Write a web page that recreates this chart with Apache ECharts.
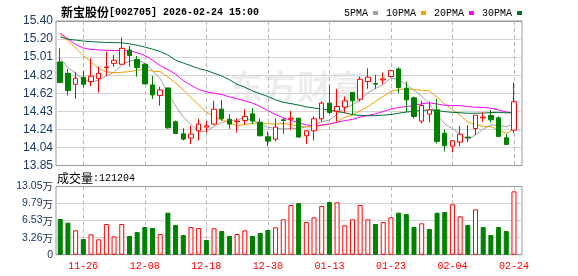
<!DOCTYPE html>
<html><head><meta charset="utf-8">
<script src="https://cdn.jsdelivr.net/npm/echarts@6/dist/echarts.min.js"></script>
<style>html,body{margin:0;padding:0;background:#fff}#c{width:578px;height:276px}</style>
</head><body><div id="c"></div>
<script>
const dates = ['11-21','11-24','11-25','11-26','11-27','11-28','12-01','12-02','12-03','12-04','12-05','12-08','12-09','12-10','12-11','12-12','12-15','12-16','12-17','12-18','12-19','12-22','12-23','12-24','12-25','12-26','12-29','12-30','12-31','01-05','01-06','01-07','01-08','01-09','01-12','01-13','01-14','01-15','01-16','01-19','01-20','01-21','01-22','01-23','01-26','01-27','01-28','01-29','01-30','02-02','02-03','02-04','02-05','02-06','02-09','02-10','02-11','02-12','02-13','02-24'];
const opens = [14.961,14.839,14.721,14.796,14.750,14.782,14.900,14.946,14.936,15.089,14.989,14.936,14.714,14.600,14.682,14.319,14.190,14.144,14.222,14.262,14.294,14.454,14.347,14.319,14.333,14.404,14.315,14.158,14.133,14.340,14.347,14.358,14.169,14.222,14.351,14.519,14.433,14.476,14.633,14.561,14.750,14.729,14.768,14.804,14.886,14.679,14.576,14.326,14.401,14.447,14.197,14.058,14.101,14.155,14.247,14.361,14.386,14.361,14.147,14.229];
const closes = [14.739,14.654,14.786,14.721,14.807,14.839,14.907,14.979,15.107,15.029,14.900,14.725,14.607,14.661,14.254,14.194,14.133,14.187,14.294,14.276,14.454,14.351,14.294,14.326,14.376,14.326,14.169,14.112,14.262,14.333,14.358,14.155,14.222,14.351,14.519,14.419,14.483,14.543,14.545,14.775,14.797,14.722,14.779,14.868,14.686,14.554,14.376,14.494,14.447,14.108,14.062,14.115,14.187,14.147,14.390,14.369,14.340,14.162,14.076,14.533];
const lows = [14.739,14.600,14.564,14.686,14.704,14.632,14.811,14.911,14.936,14.911,14.804,14.725,14.564,14.493,14.246,14.187,14.119,14.080,14.119,14.204,14.283,14.329,14.244,14.204,14.290,14.294,14.162,14.055,14.108,14.187,14.233,14.151,14.080,14.119,14.322,14.404,14.322,14.411,14.394,14.536,14.672,14.672,14.722,14.797,14.626,14.426,14.354,14.301,14.311,14.087,14.001,13.990,14.055,14.101,14.176,14.319,14.311,14.162,14.076,14.197];
const highs = [15.107,14.886,14.854,14.864,15.000,14.911,15.071,15.036,15.225,15.132,15.025,14.946,14.811,14.696,14.682,14.333,14.251,14.276,14.351,14.329,14.543,14.554,14.401,14.358,14.454,14.465,14.354,14.215,14.358,14.358,14.436,14.361,14.222,14.376,14.536,14.715,14.672,14.590,14.636,14.804,14.893,14.822,14.847,14.875,14.904,14.750,14.590,14.543,14.536,14.565,14.233,14.119,14.276,14.283,14.390,14.422,14.447,14.376,14.190,14.740];
const volumes = [68300,61300,46600,30000,39000,29400,58700,35100,58700,35800,43400,53000,51100,39600,80400,56800,37700,53000,51100,28100,50500,45300,35800,39600,46600,35800,41500,47300,52400,67700,95100,98900,62600,71500,93200,100800,100200,56200,67700,95100,67700,58700,62600,71500,80400,77900,53000,60000,49200,80400,81700,96400,73400,56800,86800,53000,37700,53000,45300,121204];
const prevCloseBeforeFirst = 14.95;
const ma5 = [15.00,14.90,14.84,14.77,14.745,14.765,14.81,14.85,14.93,14.97,14.98,14.95,14.87,14.78,14.63,14.49,14.37,14.29,14.21,14.22,14.27,14.31,14.33,14.34,14.36,14.335,14.30,14.26,14.25,14.24,14.25,14.245,14.265,14.285,14.32,14.335,14.40,14.465,14.50,14.555,14.63,14.675,14.72,14.79,14.77,14.72,14.655,14.595,14.51,14.395,14.295,14.245,14.185,14.125,14.18,14.24,14.285,14.28,14.265,14.295];
const ma10 = [15.26,15.19,15.11,15.03,14.96,14.89,14.855,14.845,14.85,14.857,14.873,14.88,14.862,14.856,14.80,14.736,14.659,14.58,14.498,14.423,14.379,14.341,14.31,14.276,14.289,14.302,14.305,14.298,14.295,14.30,14.291,14.271,14.264,14.266,14.281,14.29,14.321,14.365,14.393,14.437,14.481,14.537,14.593,14.645,14.662,14.675,14.664,14.659,14.65,14.583,14.51,14.449,14.39,14.318,14.288,14.27,14.266,14.233,14.196,14.238];
const ma20 = [15.27,15.21,15.15,15.11,15.095,15.09,15.085,15.083,15.082,15.08,15.06,15.03,14.98,14.92,14.88,14.83,14.76,14.71,14.665,14.64,14.626,14.611,14.586,14.566,14.545,14.519,14.482,14.439,14.397,14.362,14.335,14.306,14.287,14.271,14.285,14.296,14.313,14.332,14.344,14.369,14.386,14.404,14.429,14.456,14.472,14.483,14.493,14.512,14.522,14.51,14.496,14.493,14.492,14.482,14.475,14.473,14.465,14.446,14.423,14.411];
const ma30 = [15.23,15.205,15.195,15.185,15.178,15.174,15.170,15.168,15.166,15.155,15.14,15.12,15.098,15.072,15.035,14.98,14.95,14.92,14.89,14.87,14.84,14.81,14.77,14.72,14.69,14.65,14.62,14.59,14.555,14.527,14.514,14.498,14.479,14.467,14.457,14.443,14.429,14.415,14.396,14.387,14.384,14.384,14.390,14.397,14.411,14.423,14.431,14.441,14.446,14.441,14.428,14.420,14.416,14.410,14.411,14.412,14.418,14.420,14.414,14.421];
const priceTickLabels = ['13.85','14.04','14.24','14.43','14.62','14.82','15.01','15.20','15.40'];
const volTickNumbers = ['0','3.26','6.53','9.79','13.05'];
const volUnit = '万';
const xLabelEvery = 8, xLabelOffset = 3;
const PRICE_MIN = 13.85, PRICE_MAX = 15.40, VOL_MAX = 130500;

const RED = '#ff0000', GREEN = '#008000';
const chart = echarts.init(document.getElementById('c'));
const candle = opens.map((o, i) => [o, closes[i], lows[i], highs[i]]);
const volData = volumes.map((v, i) => {
  const pc = i === 0 ? prevCloseBeforeFirst : closes[i - 1];
  const up = closes[i] >= pc;
  return { value: v, itemStyle: up ? { color: '#fff', borderColor: RED, borderWidth: 1 } : { color: GREEN, borderColor: GREEN, borderWidth: 1 } };
});
const showIdx = (i) => i % xLabelEvery === xLabelOffset;
const markDates = dates.filter((d, i) => showIdx(i));
const frameLine = (n) => { const a = []; for (let i = 0; i <= n; i++) a.push(i === 0 || i === n ? '#999' : '#d4d4d4'); return a; };
const labelColor = '#1a3a66';

const PL = 56.4, PW = 461.4;
const MAIN = { top: 21, height: 144.5 }, VOL = { top: 186.5, height: 68.2 };

// dashed vertical guide at each labelled date, positioned by the category scale
const dashGuide = (xi, yi, yRef) => ({
  type: 'custom', name: 'guide' + xi, xAxisIndex: xi, yAxisIndex: yi, z: 1, silent: true,
  data: markDates.map(d => [d]), encode: { x: 0 },
  renderItem: (params, api) => {
    const x = Math.round(api.coord([api.value(0), yRef])[0]) + 0.5;
    const cs = params.coordSys;
    return { type: 'line', shape: { x1: x, y1: cs.y, x2: x, y2: cs.y + cs.height },
      style: { stroke: '#b8b8b8', lineWidth: 1, lineDash: [4, 3] } };
  }
});

chart.setOption({
  animation: false,
  title: {
    text: '{a|新宝股份}{b|[002705] 2026-02-24 15:00}', left: 56, top: 1,
    textStyle: { rich: {
      a: { fontFamily: 'Noto Sans CJK SC', fontSize: 12, color: '#000' },
      b: { fontFamily: 'Liberation Mono', fontSize: 10, color: '#000' } } }
  },
  legend: {
    left: 339, top: 3, align: 'right', icon: 'rect', itemWidth: 5, itemHeight: 4, itemGap: 8,
    textStyle: { fontFamily: 'Liberation Mono', fontSize: 10, color: '#000' },
    data: ['5PMA', '10PMA', '20PMA', '30PMA']
  },
  graphic: [
    { type: 'text', left: 229, top: 70, z: -1, style: { text: '东方财富', fontFamily: 'Noto Sans CJK SC', fontWeight: 'bold', fontSize: 34, fill: 'rgba(0,0,0,0.07)' } },
    { type: 'text', left: 57, top: 172, style: { rich: {
      a: { fontFamily: 'Noto Sans CJK SC', fontSize: 12, fill: '#000' },
      b: { fontFamily: 'Liberation Mono', fontSize: 10, fill: '#000' } }, text: '{a|成交量}{b|:' + volumes[volumes.length - 1] + '}' } }
  ],
  grid: [
    { left: 56, right: 56, top: MAIN.top, height: MAIN.height, show: true, backgroundColor: 'transparent', borderColor: '#999', borderWidth: 1 },
    { left: 56, right: 56, top: VOL.top, height: VOL.height, show: true, backgroundColor: 'transparent', borderColor: '#999', borderWidth: 1 },
    { left: PL, width: PW, top: MAIN.top, height: MAIN.height },
    { left: PL, width: PW, top: VOL.top, height: VOL.height }
  ],
  xAxis: [
    { gridIndex: 0, type: 'value', min: 0, max: 1, show: false },
    { gridIndex: 1, type: 'value', min: 0, max: 1, show: false },
    { gridIndex: 2, type: 'category', data: dates, boundaryGap: true,
      axisLine: { show: false }, axisTick: { show: false }, axisLabel: { show: false }, splitLine: { show: false } },
    { gridIndex: 3, type: 'category', data: dates, boundaryGap: true,
      axisLine: { show: false }, axisTick: { show: false }, splitLine: { show: false },
      axisLabel: { show: true, interval: showIdx, color: RED, fontFamily: 'Liberation Mono', fontSize: 10, margin: 7 } }
  ],
  yAxis: [
    { gridIndex: 0, type: 'value', min: 0, max: 8, interval: 1,
      axisLine: { show: false }, axisTick: { show: false },
      axisLabel: { formatter: v => priceTickLabels[Math.round(v)], color: labelColor, fontFamily: 'Liberation Sans', fontSize: 12, margin: 3 },
      splitLine: { show: true, lineStyle: { color: frameLine(8), width: 1 } } },
    { gridIndex: 1, type: 'value', min: 0, max: 4, interval: 1,
      axisLine: { show: false }, axisTick: { show: false },
      axisLabel: {
        formatter: v => { const k = Math.round(v); return k === 0 ? '{n|0}' : '{n|' + volTickNumbers[k] + '}{u|' + volUnit + '}'; },
        margin: 3,
        rich: { n: { color: labelColor, fontFamily: 'Liberation Sans', fontSize: 10.5 },
                u: { color: '#1a2a40', fontFamily: 'Noto Sans CJK SC', fontSize: 10.5 } } },
      splitLine: { show: true, lineStyle: { color: frameLine(4), width: 1 } } },
    { gridIndex: 2, type: 'value', min: PRICE_MIN, max: PRICE_MAX, show: false },
    { gridIndex: 3, type: 'value', min: 0, max: VOL_MAX, show: false }
  ],
  series: [
    dashGuide(2, 2, PRICE_MIN),
    dashGuide(3, 3, 0),
    { type: 'line', name: '5PMA', xAxisIndex: 2, yAxisIndex: 2, data: ma5, showSymbol: false, symbol: 'none', lineStyle: { width: 1, color: '#a0a0a0' }, itemStyle: { color: '#a0a0a0' }, z: 3 },
    { type: 'line', name: '10PMA', xAxisIndex: 2, yAxisIndex: 2, data: ma10, showSymbol: false, symbol: 'none', lineStyle: { width: 1, color: '#f0a000' }, itemStyle: { color: '#f0a000' }, z: 3 },
    { type: 'line', name: '20PMA', xAxisIndex: 2, yAxisIndex: 2, data: ma20, showSymbol: false, symbol: 'none', lineStyle: { width: 1, color: '#ff00ff' }, itemStyle: { color: '#ff00ff' }, z: 3 },
    { type: 'line', name: '30PMA', xAxisIndex: 2, yAxisIndex: 2, data: ma30, showSymbol: false, symbol: 'none', lineStyle: { width: 1, color: '#006e33' }, itemStyle: { color: '#006e33' }, z: 3 },
    { type: 'candlestick', name: 'K', xAxisIndex: 2, yAxisIndex: 2, data: candle, barWidth: 5, z: 4,
      itemStyle: { color: '#fff', color0: GREEN, borderColor: RED, borderColor0: GREEN, borderWidth: 1 } },
    { type: 'bar', name: 'VOL', xAxisIndex: 3, yAxisIndex: 3, data: volData, barWidth: 5, z: 4 }
  ]
});
</script></body></html>
